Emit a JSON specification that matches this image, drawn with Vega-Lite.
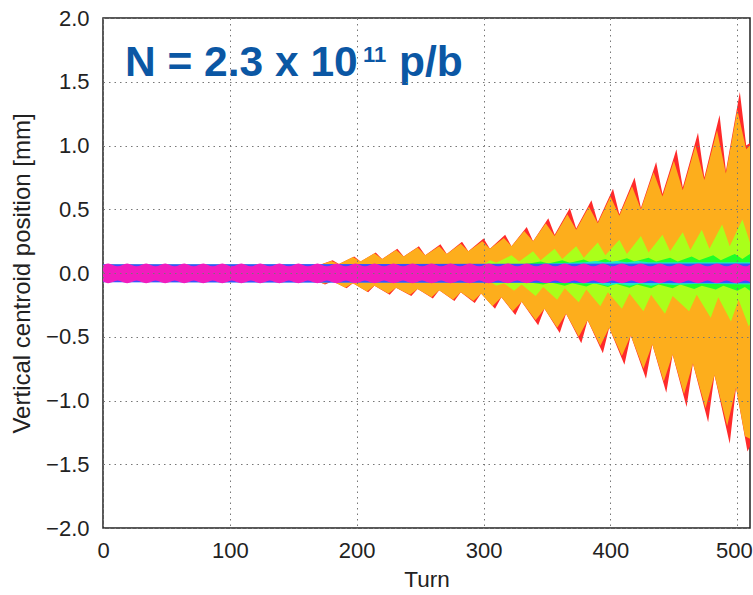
{
"$schema":"https://vega.github.io/schema/vega-lite/v6.json",
"width":647,"height":510,
"autosize":{"type":"none"},
"padding":{"left":103,"top":18,"right":3,"bottom":67},
"background":"white",
"config":{"view":{"stroke":"#222","strokeWidth":1.5},"font":"Liberation Sans"},
"data":{"values":[
{"g":"r","p":"u","t":0,"v":0.06},{"g":"r","p":"u","t":170,"v":0.06},{"g":"r","p":"u","t":181,"v":0.10},{"g":"r","p":"u","t":186,"v":0.07},{"g":"r","p":"u","t":198,"v":0.13},{"g":"r","p":"u","t":203,"v":0.09},{"g":"r","p":"u","t":215,"v":0.16},{"g":"r","p":"u","t":220,"v":0.11},{"g":"r","p":"u","t":232,"v":0.19},{"g":"r","p":"u","t":237,"v":0.13},{"g":"r","p":"u","t":249,"v":0.21},{"g":"r","p":"u","t":254,"v":0.14},{"g":"r","p":"u","t":266,"v":0.225},{"g":"r","p":"u","t":271,"v":0.15},{"g":"r","p":"u","t":283,"v":0.245},{"g":"r","p":"u","t":288,"v":0.17},{"g":"r","p":"u","t":300,"v":0.27},{"g":"r","p":"u","t":305,"v":0.19},{"g":"r","p":"u","t":317,"v":0.30},{"g":"r","p":"u","t":322,"v":0.21},{"g":"r","p":"u","t":334,"v":0.36},{"g":"r","p":"u","t":339,"v":0.25},{"g":"r","p":"u","t":351,"v":0.43},{"g":"r","p":"u","t":356,"v":0.30},{"g":"r","p":"u","t":368,"v":0.51},{"g":"r","p":"u","t":373,"v":0.35},{"g":"r","p":"u","t":385,"v":0.57},{"g":"r","p":"u","t":390,"v":0.40},{"g":"r","p":"u","t":402,"v":0.66},{"g":"r","p":"u","t":407,"v":0.46},{"g":"r","p":"u","t":419,"v":0.75},{"g":"r","p":"u","t":424,"v":0.51},{"g":"r","p":"u","t":436,"v":0.87},{"g":"r","p":"u","t":441,"v":0.62},{"g":"r","p":"u","t":452,"v":0.97},{"g":"r","p":"u","t":457,"v":0.67},{"g":"r","p":"u","t":469,"v":1.10},{"g":"r","p":"u","t":474,"v":0.75},{"g":"r","p":"u","t":486,"v":1.24},{"g":"r","p":"u","t":491,"v":0.80},{"g":"r","p":"u","t":502,"v":1.42},{"g":"r","p":"u","t":507,"v":1.0},{"g":"r","p":"u","t":510,"v":1.02},
{"g":"r","p":"l","t":0,"v":-0.06},{"g":"r","p":"l","t":168,"v":-0.06},{"g":"r","p":"l","t":175,"v":-0.09},{"g":"r","p":"l","t":181,"v":-0.065},{"g":"r","p":"l","t":192,"v":-0.12},{"g":"r","p":"l","t":197,"v":-0.08},{"g":"r","p":"l","t":209,"v":-0.15},{"g":"r","p":"l","t":214,"v":-0.10},{"g":"r","p":"l","t":226,"v":-0.17},{"g":"r","p":"l","t":231,"v":-0.115},{"g":"r","p":"l","t":243,"v":-0.18},{"g":"r","p":"l","t":248,"v":-0.125},{"g":"r","p":"l","t":260,"v":-0.20},{"g":"r","p":"l","t":265,"v":-0.135},{"g":"r","p":"l","t":277,"v":-0.22},{"g":"r","p":"l","t":282,"v":-0.15},{"g":"r","p":"l","t":293,"v":-0.235},{"g":"r","p":"l","t":298,"v":-0.16},{"g":"r","p":"l","t":309,"v":-0.28},{"g":"r","p":"l","t":314,"v":-0.19},{"g":"r","p":"l","t":325,"v":-0.33},{"g":"r","p":"l","t":330,"v":-0.225},{"g":"r","p":"l","t":343,"v":-0.41},{"g":"r","p":"l","t":348,"v":-0.28},{"g":"r","p":"l","t":360,"v":-0.47},{"g":"r","p":"l","t":365,"v":-0.32},{"g":"r","p":"l","t":377,"v":-0.55},{"g":"r","p":"l","t":382,"v":-0.37},{"g":"r","p":"l","t":394,"v":-0.63},{"g":"r","p":"l","t":399,"v":-0.43},{"g":"r","p":"l","t":411,"v":-0.72},{"g":"r","p":"l","t":416,"v":-0.49},{"g":"r","p":"l","t":428,"v":-0.83},{"g":"r","p":"l","t":433,"v":-0.56},{"g":"r","p":"l","t":444,"v":-0.94},{"g":"r","p":"l","t":449,"v":-0.64},{"g":"r","p":"l","t":460,"v":-1.05},{"g":"r","p":"l","t":465,"v":-0.71},{"g":"r","p":"l","t":477,"v":-1.17},{"g":"r","p":"l","t":482,"v":-0.80},{"g":"r","p":"l","t":494,"v":-1.34},{"g":"r","p":"l","t":499,"v":-0.90},{"g":"r","p":"l","t":508,"v":-1.40},{"g":"r","p":"l","t":510,"v":-1.36},
{"g":"o","p":"u","t":0,"v":0.06},{"g":"o","p":"u","t":170,"v":0.06},{"g":"o","p":"u","t":180,"v":0.095},{"g":"o","p":"u","t":186,"v":0.07},{"g":"o","p":"u","t":197,"v":0.125},{"g":"o","p":"u","t":203,"v":0.09},{"g":"o","p":"u","t":214,"v":0.155},{"g":"o","p":"u","t":220,"v":0.11},{"g":"o","p":"u","t":231,"v":0.18},{"g":"o","p":"u","t":237,"v":0.13},{"g":"o","p":"u","t":248,"v":0.20},{"g":"o","p":"u","t":254,"v":0.14},{"g":"o","p":"u","t":265,"v":0.21},{"g":"o","p":"u","t":271,"v":0.15},{"g":"o","p":"u","t":282,"v":0.23},{"g":"o","p":"u","t":288,"v":0.17},{"g":"o","p":"u","t":299,"v":0.25},{"g":"o","p":"u","t":305,"v":0.19},{"g":"o","p":"u","t":316,"v":0.275},{"g":"o","p":"u","t":322,"v":0.21},{"g":"o","p":"u","t":332,"v":0.33},{"g":"o","p":"u","t":339,"v":0.25},{"g":"o","p":"u","t":349,"v":0.39},{"g":"o","p":"u","t":356,"v":0.29},{"g":"o","p":"u","t":366,"v":0.46},{"g":"o","p":"u","t":373,"v":0.34},{"g":"o","p":"u","t":383,"v":0.52},{"g":"o","p":"u","t":390,"v":0.39},{"g":"o","p":"u","t":400,"v":0.60},{"g":"o","p":"u","t":407,"v":0.45},{"g":"o","p":"u","t":417,"v":0.68},{"g":"o","p":"u","t":424,"v":0.50},{"g":"o","p":"u","t":434,"v":0.79},{"g":"o","p":"u","t":441,"v":0.60},{"g":"o","p":"u","t":450,"v":0.88},{"g":"o","p":"u","t":457,"v":0.65},{"g":"o","p":"u","t":467,"v":1.0},{"g":"o","p":"u","t":474,"v":0.73},{"g":"o","p":"u","t":484,"v":1.12},{"g":"o","p":"u","t":491,"v":0.78},{"g":"o","p":"u","t":500,"v":1.28},{"g":"o","p":"u","t":507,"v":0.97},{"g":"o","p":"u","t":510,"v":1.0},
{"g":"o","p":"l","t":0,"v":-0.06},{"g":"o","p":"l","t":168,"v":-0.06},{"g":"o","p":"l","t":174,"v":-0.085},{"g":"o","p":"l","t":181,"v":-0.065},{"g":"o","p":"l","t":191,"v":-0.115},{"g":"o","p":"l","t":197,"v":-0.08},{"g":"o","p":"l","t":208,"v":-0.145},{"g":"o","p":"l","t":214,"v":-0.10},{"g":"o","p":"l","t":225,"v":-0.16},{"g":"o","p":"l","t":231,"v":-0.115},{"g":"o","p":"l","t":242,"v":-0.17},{"g":"o","p":"l","t":248,"v":-0.125},{"g":"o","p":"l","t":259,"v":-0.19},{"g":"o","p":"l","t":265,"v":-0.135},{"g":"o","p":"l","t":276,"v":-0.21},{"g":"o","p":"l","t":282,"v":-0.15},{"g":"o","p":"l","t":292,"v":-0.22},{"g":"o","p":"l","t":298,"v":-0.16},{"g":"o","p":"l","t":307,"v":-0.26},{"g":"o","p":"l","t":314,"v":-0.19},{"g":"o","p":"l","t":323,"v":-0.30},{"g":"o","p":"l","t":330,"v":-0.225},{"g":"o","p":"l","t":341,"v":-0.37},{"g":"o","p":"l","t":348,"v":-0.28},{"g":"o","p":"l","t":358,"v":-0.43},{"g":"o","p":"l","t":365,"v":-0.32},{"g":"o","p":"l","t":375,"v":-0.50},{"g":"o","p":"l","t":382,"v":-0.37},{"g":"o","p":"l","t":392,"v":-0.57},{"g":"o","p":"l","t":399,"v":-0.43},{"g":"o","p":"l","t":409,"v":-0.65},{"g":"o","p":"l","t":416,"v":-0.49},{"g":"o","p":"l","t":426,"v":-0.75},{"g":"o","p":"l","t":433,"v":-0.56},{"g":"o","p":"l","t":442,"v":-0.85},{"g":"o","p":"l","t":449,"v":-0.64},{"g":"o","p":"l","t":458,"v":-0.95},{"g":"o","p":"l","t":465,"v":-0.71},{"g":"o","p":"l","t":475,"v":-1.06},{"g":"o","p":"l","t":482,"v":-0.80},{"g":"o","p":"l","t":492,"v":-1.20},{"g":"o","p":"l","t":499,"v":-0.90},{"g":"o","p":"l","t":506,"v":-1.28},{"g":"o","p":"l","t":510,"v":-1.30},
{"g":"y","p":"u","t":0,"v":0.065},{"g":"y","p":"u","t":300,"v":0.065},{"g":"y","p":"u","t":305,"v":0.10},{"g":"y","p":"u","t":310,"v":0.08},{"g":"y","p":"u","t":322,"v":0.14},{"g":"y","p":"u","t":328,"v":0.09},{"g":"y","p":"u","t":339,"v":0.17},{"g":"y","p":"u","t":345,"v":0.10},{"g":"y","p":"u","t":356,"v":0.19},{"g":"y","p":"u","t":362,"v":0.11},{"g":"y","p":"u","t":373,"v":0.21},{"g":"y","p":"u","t":379,"v":0.12},{"g":"y","p":"u","t":390,"v":0.24},{"g":"y","p":"u","t":396,"v":0.14},{"g":"y","p":"u","t":407,"v":0.26},{"g":"y","p":"u","t":413,"v":0.15},{"g":"y","p":"u","t":424,"v":0.29},{"g":"y","p":"u","t":430,"v":0.16},{"g":"y","p":"u","t":441,"v":0.30},{"g":"y","p":"u","t":447,"v":0.17},{"g":"y","p":"u","t":457,"v":0.32},{"g":"y","p":"u","t":463,"v":0.18},{"g":"y","p":"u","t":472,"v":0.34},{"g":"y","p":"u","t":478,"v":0.19},{"g":"y","p":"u","t":488,"v":0.38},{"g":"y","p":"u","t":494,"v":0.21},{"g":"y","p":"u","t":504,"v":0.42},{"g":"y","p":"u","t":510,"v":0.24},
{"g":"y","p":"l","t":0,"v":-0.065},{"g":"y","p":"l","t":305,"v":-0.065},{"g":"y","p":"l","t":310,"v":-0.10},{"g":"y","p":"l","t":316,"v":-0.08},{"g":"y","p":"l","t":324,"v":-0.14},{"g":"y","p":"l","t":330,"v":-0.09},{"g":"y","p":"l","t":341,"v":-0.18},{"g":"y","p":"l","t":347,"v":-0.11},{"g":"y","p":"l","t":358,"v":-0.21},{"g":"y","p":"l","t":364,"v":-0.12},{"g":"y","p":"l","t":375,"v":-0.23},{"g":"y","p":"l","t":381,"v":-0.13},{"g":"y","p":"l","t":392,"v":-0.26},{"g":"y","p":"l","t":398,"v":-0.15},{"g":"y","p":"l","t":409,"v":-0.28},{"g":"y","p":"l","t":415,"v":-0.16},{"g":"y","p":"l","t":426,"v":-0.30},{"g":"y","p":"l","t":432,"v":-0.17},{"g":"y","p":"l","t":443,"v":-0.32},{"g":"y","p":"l","t":449,"v":-0.18},{"g":"y","p":"l","t":462,"v":-0.30},{"g":"y","p":"l","t":468,"v":-0.17},{"g":"y","p":"l","t":479,"v":-0.35},{"g":"y","p":"l","t":485,"v":-0.19},{"g":"y","p":"l","t":495,"v":-0.38},{"g":"y","p":"l","t":501,"v":-0.21},{"g":"y","p":"l","t":509,"v":-0.42},{"g":"y","p":"l","t":510,"v":-0.40},
{"g":"g","p":"u","t":0,"v":0.065},{"g":"g","p":"u","t":330,"v":0.065},{"g":"g","p":"u","t":345,"v":0.09},{"g":"g","p":"u","t":351,"v":0.075},{"g":"g","p":"u","t":362,"v":0.10},{"g":"g","p":"u","t":368,"v":0.08},{"g":"g","p":"u","t":379,"v":0.105},{"g":"g","p":"u","t":385,"v":0.08},{"g":"g","p":"u","t":396,"v":0.11},{"g":"g","p":"u","t":402,"v":0.085},{"g":"g","p":"u","t":413,"v":0.115},{"g":"g","p":"u","t":419,"v":0.09},{"g":"g","p":"u","t":430,"v":0.12},{"g":"g","p":"u","t":436,"v":0.09},{"g":"g","p":"u","t":447,"v":0.12},{"g":"g","p":"u","t":453,"v":0.09},{"g":"g","p":"u","t":464,"v":0.13},{"g":"g","p":"u","t":470,"v":0.10},{"g":"g","p":"u","t":481,"v":0.14},{"g":"g","p":"u","t":487,"v":0.10},{"g":"g","p":"u","t":498,"v":0.15},{"g":"g","p":"u","t":504,"v":0.11},{"g":"g","p":"u","t":510,"v":0.15},
{"g":"g","p":"l","t":0,"v":-0.065},{"g":"g","p":"l","t":330,"v":-0.065},{"g":"g","p":"l","t":347,"v":-0.09},{"g":"g","p":"l","t":353,"v":-0.075},{"g":"g","p":"l","t":364,"v":-0.10},{"g":"g","p":"l","t":370,"v":-0.08},{"g":"g","p":"l","t":381,"v":-0.105},{"g":"g","p":"l","t":387,"v":-0.08},{"g":"g","p":"l","t":398,"v":-0.11},{"g":"g","p":"l","t":404,"v":-0.085},{"g":"g","p":"l","t":415,"v":-0.115},{"g":"g","p":"l","t":421,"v":-0.09},{"g":"g","p":"l","t":432,"v":-0.12},{"g":"g","p":"l","t":438,"v":-0.09},{"g":"g","p":"l","t":449,"v":-0.12},{"g":"g","p":"l","t":455,"v":-0.09},{"g":"g","p":"l","t":466,"v":-0.125},{"g":"g","p":"l","t":472,"v":-0.10},{"g":"g","p":"l","t":483,"v":-0.13},{"g":"g","p":"l","t":489,"v":-0.10},{"g":"g","p":"l","t":500,"v":-0.14},{"g":"g","p":"l","t":506,"v":-0.11},{"g":"g","p":"l","t":510,"v":-0.14},
{"g":"c","p":"u","t":0,"v":0.065},{"g":"c","p":"u","t":340,"v":0.07},{"g":"c","p":"u","t":380,"v":0.085},{"g":"c","p":"u","t":388,"v":0.095},{"g":"c","p":"u","t":396,"v":0.085},{"g":"c","p":"u","t":405,"v":0.095},{"g":"c","p":"u","t":413,"v":0.085},{"g":"c","p":"u","t":422,"v":0.095},{"g":"c","p":"u","t":430,"v":0.085},{"g":"c","p":"u","t":460,"v":0.085},{"g":"c","p":"u","t":510,"v":0.085},
{"g":"c","p":"l","t":0,"v":-0.07},{"g":"c","p":"l","t":350,"v":-0.075},{"g":"c","p":"l","t":390,"v":-0.085},{"g":"c","p":"l","t":398,"v":-0.10},{"g":"c","p":"l","t":406,"v":-0.085},{"g":"c","p":"l","t":415,"v":-0.10},{"g":"c","p":"l","t":423,"v":-0.085},{"g":"c","p":"l","t":432,"v":-0.10},{"g":"c","p":"l","t":440,"v":-0.085},{"g":"c","p":"l","t":450,"v":-0.095},{"g":"c","p":"l","t":470,"v":-0.085},{"g":"c","p":"l","t":510,"v":-0.09},
{"g":"b","p":"u","t":0,"v":0.068},{"g":"b","p":"u","t":510,"v":0.074},
{"g":"b","p":"l","t":0,"v":-0.072},{"g":"b","p":"l","t":510,"v":-0.08},
{"g":"m","p":"u","t":0,"v":0.06},{"g":"m","p":"u","t":4,"v":0.075},{"g":"m","p":"u","t":11.5,"v":0.052},{"g":"m","p":"u","t":19,"v":0.075},{"g":"m","p":"u","t":26.5,"v":0.052},{"g":"m","p":"u","t":34,"v":0.075},{"g":"m","p":"u","t":41.5,"v":0.052},{"g":"m","p":"u","t":49,"v":0.075},{"g":"m","p":"u","t":56.5,"v":0.052},{"g":"m","p":"u","t":64,"v":0.075},{"g":"m","p":"u","t":71.5,"v":0.052},{"g":"m","p":"u","t":79,"v":0.075},{"g":"m","p":"u","t":86.5,"v":0.052},{"g":"m","p":"u","t":94,"v":0.075},{"g":"m","p":"u","t":101.5,"v":0.052},{"g":"m","p":"u","t":109,"v":0.075},{"g":"m","p":"u","t":116.5,"v":0.052},{"g":"m","p":"u","t":124,"v":0.075},{"g":"m","p":"u","t":131.5,"v":0.052},{"g":"m","p":"u","t":139,"v":0.075},{"g":"m","p":"u","t":146.5,"v":0.052},{"g":"m","p":"u","t":154,"v":0.075},{"g":"m","p":"u","t":161.5,"v":0.052},{"g":"m","p":"u","t":169,"v":0.075},{"g":"m","p":"u","t":176.5,"v":0.052},{"g":"m","p":"u","t":184,"v":0.075},{"g":"m","p":"u","t":191.5,"v":0.052},{"g":"m","p":"u","t":199,"v":0.075},{"g":"m","p":"u","t":206.5,"v":0.052},{"g":"m","p":"u","t":214,"v":0.075},{"g":"m","p":"u","t":221.5,"v":0.052},{"g":"m","p":"u","t":229,"v":0.075},{"g":"m","p":"u","t":236.5,"v":0.052},{"g":"m","p":"u","t":244,"v":0.075},{"g":"m","p":"u","t":251.5,"v":0.052},{"g":"m","p":"u","t":259,"v":0.075},{"g":"m","p":"u","t":266.5,"v":0.052},{"g":"m","p":"u","t":274,"v":0.075},{"g":"m","p":"u","t":281.5,"v":0.052},{"g":"m","p":"u","t":289,"v":0.075},{"g":"m","p":"u","t":296.5,"v":0.052},{"g":"m","p":"u","t":304,"v":0.075},{"g":"m","p":"u","t":311.5,"v":0.052},{"g":"m","p":"u","t":319,"v":0.075},{"g":"m","p":"u","t":326.5,"v":0.052},{"g":"m","p":"u","t":334,"v":0.075},{"g":"m","p":"u","t":341.5,"v":0.052},{"g":"m","p":"u","t":349,"v":0.075},{"g":"m","p":"u","t":356.5,"v":0.052},{"g":"m","p":"u","t":364,"v":0.075},{"g":"m","p":"u","t":371.5,"v":0.052},{"g":"m","p":"u","t":379,"v":0.075},{"g":"m","p":"u","t":386.5,"v":0.052},{"g":"m","p":"u","t":394,"v":0.075},{"g":"m","p":"u","t":401.5,"v":0.052},{"g":"m","p":"u","t":409,"v":0.075},{"g":"m","p":"u","t":416.5,"v":0.052},{"g":"m","p":"u","t":424,"v":0.075},{"g":"m","p":"u","t":431.5,"v":0.052},{"g":"m","p":"u","t":439,"v":0.075},{"g":"m","p":"u","t":446.5,"v":0.052},{"g":"m","p":"u","t":454,"v":0.075},{"g":"m","p":"u","t":461.5,"v":0.052},{"g":"m","p":"u","t":469,"v":0.075},{"g":"m","p":"u","t":476.5,"v":0.052},{"g":"m","p":"u","t":484,"v":0.075},{"g":"m","p":"u","t":491.5,"v":0.052},{"g":"m","p":"u","t":499,"v":0.075},{"g":"m","p":"u","t":506.5,"v":0.052},{"g":"m","p":"u","t":510,"v":0.065},
{"g":"m","p":"l","t":0,"v":-0.065},{"g":"m","p":"l","t":4,"v":-0.08},{"g":"m","p":"l","t":11.5,"v":-0.058},{"g":"m","p":"l","t":19,"v":-0.08},{"g":"m","p":"l","t":26.5,"v":-0.058},{"g":"m","p":"l","t":34,"v":-0.08},{"g":"m","p":"l","t":41.5,"v":-0.058},{"g":"m","p":"l","t":49,"v":-0.08},{"g":"m","p":"l","t":56.5,"v":-0.058},{"g":"m","p":"l","t":64,"v":-0.08},{"g":"m","p":"l","t":71.5,"v":-0.058},{"g":"m","p":"l","t":79,"v":-0.08},{"g":"m","p":"l","t":86.5,"v":-0.058},{"g":"m","p":"l","t":94,"v":-0.08},{"g":"m","p":"l","t":101.5,"v":-0.058},{"g":"m","p":"l","t":109,"v":-0.08},{"g":"m","p":"l","t":116.5,"v":-0.058},{"g":"m","p":"l","t":124,"v":-0.08},{"g":"m","p":"l","t":131.5,"v":-0.058},{"g":"m","p":"l","t":139,"v":-0.08},{"g":"m","p":"l","t":146.5,"v":-0.058},{"g":"m","p":"l","t":154,"v":-0.08},{"g":"m","p":"l","t":161.5,"v":-0.058},{"g":"m","p":"l","t":169,"v":-0.08},{"g":"m","p":"l","t":176.5,"v":-0.058},{"g":"m","p":"l","t":184,"v":-0.08},{"g":"m","p":"l","t":191.5,"v":-0.058},{"g":"m","p":"l","t":199,"v":-0.08},{"g":"m","p":"l","t":206.5,"v":-0.058},{"g":"m","p":"l","t":214,"v":-0.08},{"g":"m","p":"l","t":221.5,"v":-0.058},{"g":"m","p":"l","t":229,"v":-0.08},{"g":"m","p":"l","t":236.5,"v":-0.058},{"g":"m","p":"l","t":244,"v":-0.08},{"g":"m","p":"l","t":251.5,"v":-0.058},{"g":"m","p":"l","t":259,"v":-0.08},{"g":"m","p":"l","t":266.5,"v":-0.058},{"g":"m","p":"l","t":274,"v":-0.08},{"g":"m","p":"l","t":281.5,"v":-0.058},{"g":"m","p":"l","t":289,"v":-0.08},{"g":"m","p":"l","t":296.5,"v":-0.058},{"g":"m","p":"l","t":304,"v":-0.08},{"g":"m","p":"l","t":311.5,"v":-0.058},{"g":"m","p":"l","t":319,"v":-0.08},{"g":"m","p":"l","t":326.5,"v":-0.058},{"g":"m","p":"l","t":334,"v":-0.08},{"g":"m","p":"l","t":341.5,"v":-0.058},{"g":"m","p":"l","t":349,"v":-0.08},{"g":"m","p":"l","t":356.5,"v":-0.058},{"g":"m","p":"l","t":364,"v":-0.08},{"g":"m","p":"l","t":371.5,"v":-0.058},{"g":"m","p":"l","t":379,"v":-0.08},{"g":"m","p":"l","t":386.5,"v":-0.058},{"g":"m","p":"l","t":394,"v":-0.08},{"g":"m","p":"l","t":401.5,"v":-0.058},{"g":"m","p":"l","t":409,"v":-0.08},{"g":"m","p":"l","t":416.5,"v":-0.058},{"g":"m","p":"l","t":424,"v":-0.08},{"g":"m","p":"l","t":431.5,"v":-0.058},{"g":"m","p":"l","t":439,"v":-0.08},{"g":"m","p":"l","t":446.5,"v":-0.058},{"g":"m","p":"l","t":454,"v":-0.08},{"g":"m","p":"l","t":461.5,"v":-0.058},{"g":"m","p":"l","t":469,"v":-0.08},{"g":"m","p":"l","t":476.5,"v":-0.058},{"g":"m","p":"l","t":484,"v":-0.08},{"g":"m","p":"l","t":491.5,"v":-0.058},{"g":"m","p":"l","t":499,"v":-0.08},{"g":"m","p":"l","t":506.5,"v":-0.058},{"g":"m","p":"l","t":510,"v":-0.07}
]},
"layer":[
{
"encoding":{
"x":{"field":"t","type":"quantitative","scale":{"domain":[0,510],"nice":false,"zero":false},
"axis":{"title":"Turn","values":[0,100,200,300,400,500],"format":"d","grid":true,"gridColor":"#777","gridDash":[1.5,4],"gridWidth":1,"domain":false,"ticks":false,"tickSize":0,"labelFontSize":22,"labelColor":"#222","labelPadding":12,"labelFlush":false,"labelAlign":{"condition":{"test":"datum.value === 500","value":"right"},"value":"center"},"labelOffset":{"condition":{"test":"datum.value === 500","value":15},"value":0},"titleFontSize":22.5,"titleFontWeight":"normal","titleColor":"#222","titlePadding":7,"zindex":1}},
"y":{"field":"v","type":"quantitative","stack":null,"scale":{"domain":[-2,2],"nice":false,"zero":false},
"axis":{"title":"Vertical centroid position [mm]","values":[-2,-1.5,-1,-0.5,0,0.5,1,1.5,2],"format":".1f","grid":true,"gridColor":"#777","gridDash":[1.5,4],"gridWidth":1,"domain":false,"ticks":false,"tickSize":0,"labelFontSize":22,"labelColor":"#222","labelPadding":14,"labelFlush":false,"titleFontSize":24,"titleFontWeight":"normal","titleColor":"#222","titlePadding":11,"zindex":1}},
"y2":{"datum":0},
"detail":{"field":"p"}
},
"layer":[
{"transform":[{"filter":"datum.g=='r'"}],"mark":{"type":"area","color":"#ff2a2a","opacity":1}},
{"transform":[{"filter":"datum.g=='o'"}],"mark":{"type":"area","color":"#fdae1c","opacity":1}},
{"transform":[{"filter":"datum.g=='y'"}],"mark":{"type":"area","color":"#aaff1a","opacity":1}},
{"transform":[{"filter":"datum.g=='g'"}],"mark":{"type":"area","color":"#1eff28","opacity":1}},
{"transform":[{"filter":"datum.g=='c'"}],"mark":{"type":"area","color":"#1ee8c8","opacity":1}},
{"transform":[{"filter":"datum.g=='b'"}],"mark":{"type":"area","color":"#3c50ff","opacity":1}},
{"transform":[{"filter":"datum.g=='m'"}],"mark":{"type":"area","color":"#f21cbe","opacity":1,"interpolate":"monotone"}}
]
},
{"data":{"values":[{}]},"mark":{"type":"text","text":"N = 2.3 x 10","font":"Liberation Sans","fontWeight":"bold","fontSize":42.5,"color":"#0b57a4","align":"left","baseline":"alphabetic"},"encoding":{"x":{"datum":17.3,"type":"quantitative"},"y":{"datum":1.545,"type":"quantitative"}}},
{"data":{"values":[{}]},"mark":{"type":"text","text":"11","font":"Liberation Sans","fontWeight":"bold","fontSize":22,"color":"#0b57a4","align":"left","baseline":"alphabetic"},"encoding":{"x":{"datum":205,"type":"quantitative"},"y":{"datum":1.655,"type":"quantitative"}}},
{"data":{"values":[{}]},"mark":{"type":"text","text":"p/b","font":"Liberation Sans","fontWeight":"bold","fontSize":42.5,"color":"#0b57a4","align":"left","baseline":"alphabetic"},"encoding":{"x":{"datum":233.4,"type":"quantitative"},"y":{"datum":1.545,"type":"quantitative"}}}
]
}
